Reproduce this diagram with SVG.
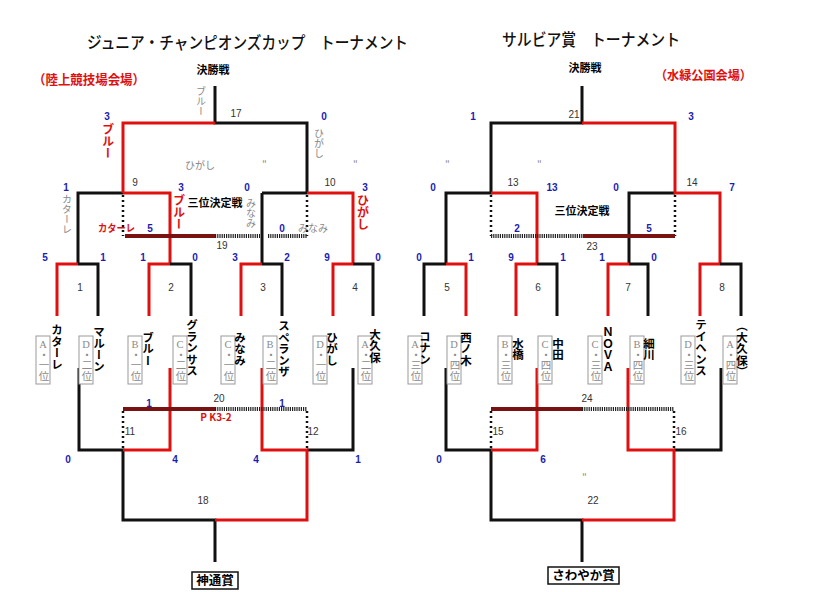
<svg xmlns="http://www.w3.org/2000/svg" width="816" height="592" viewBox="0 0 816 592">
<style>
.k{stroke:#111;stroke-width:3;fill:none}
.r{stroke:#e01010;stroke-width:3;fill:none}
.m{stroke:#7a1212;stroke-width:4;fill:none}
.h{stroke:#222;stroke-width:4;stroke-dasharray:1.2 1;fill:none}
.d{stroke:#111;stroke-width:2.5;stroke-dasharray:2 3;fill:none}
text{font-family:"Noto Sans CJK JP","Liberation Sans",sans-serif}
.sc{font-family:"Liberation Sans",sans-serif;font-weight:bold;font-size:10px;fill:#1c1cb0;text-anchor:middle}
.mn{font-family:"Liberation Sans",sans-serif;font-size:10px;fill:#333;text-anchor:middle}
.nm{font-weight:bold;font-size:11.5px;fill:#000;writing-mode:vertical-rl;text-anchor:middle}
.gv{font-size:10px;fill:#888;writing-mode:vertical-rl;text-anchor:middle}
.rv{font-weight:bold;font-size:12px;fill:#e01010;writing-mode:vertical-rl;text-anchor:middle}
.g{font-size:10px;fill:#888}
.bx{fill:#fff;stroke:#999;stroke-width:1}
.bt{font-family:"Liberation Serif","Noto Sans CJK JP",serif;font-size:10.5px;fill:#8a8a8a;writing-mode:vertical-rl;text-orientation:upright;text-anchor:middle}
.hd{font-weight:bold;font-size:11px;fill:#000;text-anchor:middle}
.pz{fill:#fff;stroke:#111;stroke-width:1.5}
.pt{font-weight:bold;font-size:12.5px;fill:#000;text-anchor:middle}
.tt{font-size:16.5px;font-weight:500;fill:#111}
</style>
<rect width="816" height="592" fill="#fff"/>

<g id="titles">
<text class="tt" x="87" y="49" textLength="321" lengthAdjust="spacingAndGlyphs">ジュニア・チャンピオンズカップ　トーナメント</text>
<text class="tt" x="502" y="46" textLength="178" lengthAdjust="spacingAndGlyphs">サルビア賞　トーナメント</text>
<text x="33" y="84" font-size="13" font-weight="bold" fill="#e01010" textLength="112" lengthAdjust="spacingAndGlyphs">（陸上競技場会場）</text>
<text x="655" y="80" font-size="12.5" font-weight="bold" fill="#e01010" textLength="97" lengthAdjust="spacingAndGlyphs">（水緑公園会場）</text>
<text class="hd" x="213" y="74">決勝戦</text>
<text class="hd" x="585" y="72">決勝戦</text>
<text class="hd" x="215" y="207">三位決定戦</text>
<text class="hd" x="582" y="215">三位決定戦</text>
</g>

<g id="connectors">
<!-- left upper -->
<path class="k" d="M215,86V123H307V193M262,193H307M78,264V193H123M262,264V193"/>
<path class="r" d="M123,193V123H215M123,193H170V264M307,193H353V264"/>
<path class="r" d="M57,316V264H78M149,316V264H170M241,316V264H262M333,316V264H353"/>
<path class="k" d="M78,264H98V316M170,264H191V316M262,264H282V316M353,264H373V316"/>
<path class="d" d="M123,195V236M307,195V236"/>
<path class="m" d="M125,236H215"/>
<path class="h" d="M215,236H260M268,236H307"/>
<!-- left lower -->
<path class="k" d="M79,368V450H123V520H215V562M353,368V450H307"/>
<path class="r" d="M170,368V450H123M262,368V450H307V520H215"/>
<path class="d" d="M123,411V450M307,411V450"/>
<path class="m" d="M123,409H215"/>
<path class="h" d="M215,409H307"/>
<!-- right upper -->
<path class="k" d="M582,86V123H491V193H446V264M629,264V193H675"/>
<path class="r" d="M582,123H675V193H720V264M491,193H537V264"/>
<path class="k" d="M424,316V264H446M537,264H557V316M629,264H648V316M720,264H741V316"/>
<path class="r" d="M446,264H466V316M516,316V264H537M608,316V264H629M700,316V264H720"/>
<path class="d" d="M491,195V236M675,195V236"/>
<path class="h" d="M491,236H583"/>
<path class="m" d="M583,236H675"/>
<!-- right lower -->
<path class="k" d="M446,368V450H491V520H582V562M721,368V450H674"/>
<path class="r" d="M537,368V450H491M628,368V450H674V520H582"/>
<path class="d" d="M491,411V450M674,411V450"/>
<path class="m" d="M491,409H582"/>
<path class="h" d="M582,409H674"/>
</g>

<g id="labels-left">
<text class="gv" x="201" y="101">ブルー</text>
<text class="rv" x="108" y="141">ブルー</text>
<text class="gv" x="319" y="143" font-size="11">ひがし</text>
<text class="g" x="185" y="169">ひがし</text>
<text class="g" x="262" y="168" font-size="8">"</text>
<text class="g" x="353" y="168" font-size="8">"</text>
<text class="gv" x="67" y="214" font-size="9">カターレ</text>
<text class="rv" x="179" y="212">ブルー</text>
<text class="gv" x="251" y="213">みなみ</text>
<text class="rv" x="363" y="212">ひがし</text>
<text x="98" y="232" font-size="10" font-weight="bold" fill="#e01010" textLength="37" lengthAdjust="spacingAndGlyphs">カターレ</text>
<text class="g" x="298" y="232">みなみ</text>
<text x="216" y="421" font-family="Liberation Sans,sans-serif" font-size="10" font-weight="bold" fill="#e01010" text-anchor="middle">P K3-2</text>
</g>

<g id="labels-right">
<text class="g" x="445" y="168" font-size="8">"</text>
<text class="g" x="537" y="168" font-size="8">"</text>
<text class="g" x="582" y="481" font-size="7">"</text>
</g>

<g id="scores">
<text class="sc" x="107" y="120">3</text><text class="sc" x="324" y="120">0</text>
<text class="sc" x="66" y="191">1</text><text class="sc" x="181" y="191">3</text>
<text class="sc" x="247" y="191">0</text><text class="sc" x="365" y="191">3</text>
<text class="sc" x="150" y="232">5</text><text class="sc" x="282" y="232">0</text>
<text class="sc" x="45" y="261">5</text><text class="sc" x="103" y="261">1</text>
<text class="sc" x="143" y="261">1</text><text class="sc" x="195" y="261">0</text>
<text class="sc" x="235" y="261">3</text><text class="sc" x="287" y="261">2</text>
<text class="sc" x="327" y="261">9</text><text class="sc" x="378" y="261">0</text>
<text class="sc" x="149" y="407">1</text><text class="sc" x="282" y="407">1</text>
<text class="sc" x="68" y="463">0</text><text class="sc" x="175" y="463">4</text>
<text class="sc" x="256" y="463">4</text><text class="sc" x="358" y="463">1</text>
<text class="sc" x="473" y="120">1</text><text class="sc" x="691" y="120">3</text>
<text class="sc" x="433" y="191">0</text><text class="sc" x="552" y="191">13</text>
<text class="sc" x="616" y="191">0</text><text class="sc" x="732" y="191">7</text>
<text class="sc" x="517" y="232">2</text><text class="sc" x="649" y="232">5</text>
<text class="sc" x="419" y="261">0</text><text class="sc" x="471" y="261">1</text>
<text class="sc" x="511" y="261">9</text><text class="sc" x="563" y="261">1</text>
<text class="sc" x="602" y="261">1</text><text class="sc" x="654" y="261">0</text>
<text class="sc" x="439" y="463">0</text><text class="sc" x="543" y="463">6</text>
</g>

<g id="match-numbers">
<text class="mn" x="236" y="117">17</text>
<text class="mn" x="135" y="186">9</text><text class="mn" x="330" y="186">10</text>
<text class="mn" x="222" y="249">19</text>
<text class="mn" x="80" y="291">1</text><text class="mn" x="171" y="291">2</text>
<text class="mn" x="263" y="291">3</text><text class="mn" x="355" y="291">4</text>
<text class="mn" x="219" y="402">20</text>
<text class="mn" x="130" y="435">11</text><text class="mn" x="313" y="435">12</text>
<text class="mn" x="203" y="504">18</text>
<text class="mn" x="574" y="118">21</text>
<text class="mn" x="513" y="186">13</text><text class="mn" x="692" y="186">14</text>
<text class="mn" x="592" y="250">23</text>
<text class="mn" x="447" y="291">5</text><text class="mn" x="538" y="291">6</text>
<text class="mn" x="628" y="291">7</text><text class="mn" x="722" y="291">8</text>
<text class="mn" x="587" y="402">24</text>
<text class="mn" x="498" y="435">15</text><text class="mn" x="681" y="435">16</text>
<text class="mn" x="593" y="504">22</text>
</g>

<g id="team-L1"><rect class="bx" x="36" y="336" width="14" height="48"/><text class="bt" x="43" y="360">A・一位</text><text class="nm" x="57" y="347">カターレ</text></g>
<g id="team-L2"><rect class="bx" x="79" y="336" width="14" height="48"/><text class="bt" x="86" y="360">D・二位</text><text class="nm" x="99" y="349">マルーン</text></g>
<g id="team-L3"><rect class="bx" x="128" y="336" width="14" height="48"/><text class="bt" x="135" y="360">B・一位</text><text class="nm" x="148" y="349">ブルー</text></g>
<g id="team-L4"><rect class="bx" x="173" y="336" width="14" height="48"/><text class="bt" x="180" y="360">C・二位</text><text class="nm" x="192" y="348">グランサス</text></g>
<g id="team-L5"><rect class="bx" x="221" y="336" width="14" height="48"/><text class="bt" x="228" y="360">C・一位</text><text class="nm" x="240" y="349">みなみ</text></g>
<g id="team-L6"><rect class="bx" x="263" y="336" width="14" height="48"/><text class="bt" x="270" y="360">B・二位</text><text class="nm" x="284" y="349">スペランザ</text></g>
<g id="team-L7"><rect class="bx" x="313" y="336" width="14" height="48"/><text class="bt" x="320" y="360">D・一位</text><text class="nm" x="332" y="349">ひがし</text></g>
<g id="team-L8"><rect class="bx" x="358" y="336" width="14" height="48"/><text class="bt" x="365" y="360">A・二位</text><text class="nm" x="375" y="346">大久保</text></g>

<g id="team-R1"><rect class="bx" x="408" y="336" width="14" height="48"/><text class="bt" x="415" y="360">A・三位</text><text class="nm" x="425" y="348">コナン</text></g>
<g id="team-R2"><rect class="bx" x="447" y="336" width="14" height="48"/><text class="bt" x="454" y="360">D・四位</text><text class="nm" x="466" y="349">西ノ木</text></g>
<g id="team-R3"><rect class="bx" x="498" y="336" width="14" height="48"/><text class="bt" x="505" y="360">B・三位</text><text class="nm" x="518" y="349">水橋</text></g>
<g id="team-R4"><rect class="bx" x="538" y="336" width="14" height="48"/><text class="bt" x="545" y="360">C・四位</text><text class="nm" x="558" y="349">中田</text></g>
<g id="team-R5"><rect class="bx" x="588" y="336" width="14" height="48"/><text class="bt" x="595" y="360">C・三位</text><text class="nm" x="608" y="349" font-size="10.5">ＮＯＶＡ</text></g>
<g id="team-R6"><rect class="bx" x="630" y="336" width="14" height="48"/><text class="bt" x="637" y="360">B・四位</text><text class="nm" x="649" y="349">細川</text></g>
<g id="team-R7"><rect class="bx" x="681" y="336" width="14" height="48"/><text class="bt" x="688" y="360">D・三位</text><text class="nm" x="701" y="348">テイヘンス</text></g>
<g id="team-R8"><rect class="bx" x="723" y="336" width="14" height="48"/><text class="bt" x="730" y="360">A・四位</text><text class="nm" x="742" y="349">（大久保）</text></g>

<g id="prize-left"><rect class="pz" x="192" y="572" width="46" height="17"/><text class="pt" x="215" y="585">神通賞</text></g>
<g id="prize-right"><rect class="pz" x="548" y="567" width="71" height="17"/><text class="pt" x="583.5" y="580">さわやか賞</text></g>
</svg>
